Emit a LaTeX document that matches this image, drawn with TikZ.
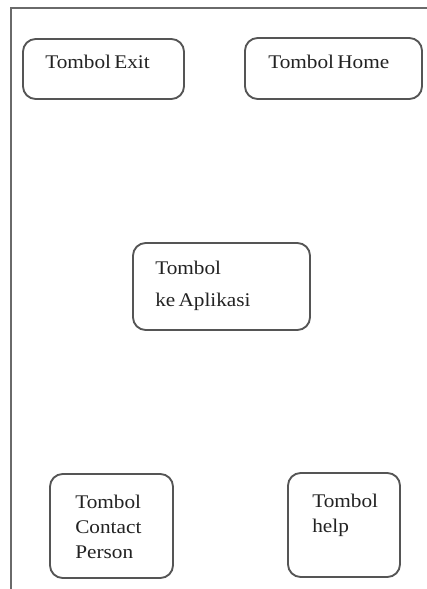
\documentclass[tikz,border=0pt]{standalone}
\usepackage{fontspec}
\setmainfont[FakeStretch=1.1,WordSpace=0.6]{Liberation Serif}
\definecolor{edge}{HTML}{555555}
\definecolor{frameline}{HTML}{6A6A6A}
\definecolor{ink}{HTML}{222222}
\begin{document}
\begin{tikzpicture}[x=0.75pt,y=-0.75pt,
  button/.style={draw=edge,line width=1.4pt,rounded corners=9.5pt,inner sep=0pt,
    rectangle},
  caption/.style={anchor=base west,inner sep=0pt,text=ink,align=left,
    font=\fontsize{14.5}{18.75}\selectfont},
  widecaption/.style={caption,font=\fontsize{14.5}{24}\selectfont}]
\useasboundingbox (0,0) rectangle (427,589);
% page frame: left and top edges only
\coordinate (frameTL) at (11,8);
\coordinate (frameBL) at (11,589);
\coordinate (frameTR) at (427,8);
\draw[frameline,line width=1.1pt] (frameBL) -- (frameTL) -- (frameTR);
% buttons (sizes in px, 1px = 0.75pt)
\node[button,minimum width=120.75pt,minimum height=45pt] (exitbox) at (103.5,69) {};
\node[button,minimum width=132.75pt,minimum height=45.75pt] (homebox) at (333.5,68.5) {};
\node[button,minimum width=132.75pt,minimum height=65.25pt] (appbox) at (221.5,286.5) {};
\node[button,minimum width=92.25pt,minimum height=78pt] (contactbox) at (111.5,526) {};
\node[button,minimum width=84pt,minimum height=78pt] (helpbox) at (344,525) {};
% captions, anchored on the baseline of their last line
\node[caption] (exittext) at (45,68) {Tombol Exit};
\node[caption] (hometext) at (268,68) {Tombol Home};
\node[widecaption] (apptext) at (155,306) {Tombol\\ke Aplikasi};
\node[caption] (contacttext) at (75,558) {Tombol\\Contact\\Person};
\node[caption] (helptext) at (312,532) {Tombol\\help};
\end{tikzpicture}
\end{document}
